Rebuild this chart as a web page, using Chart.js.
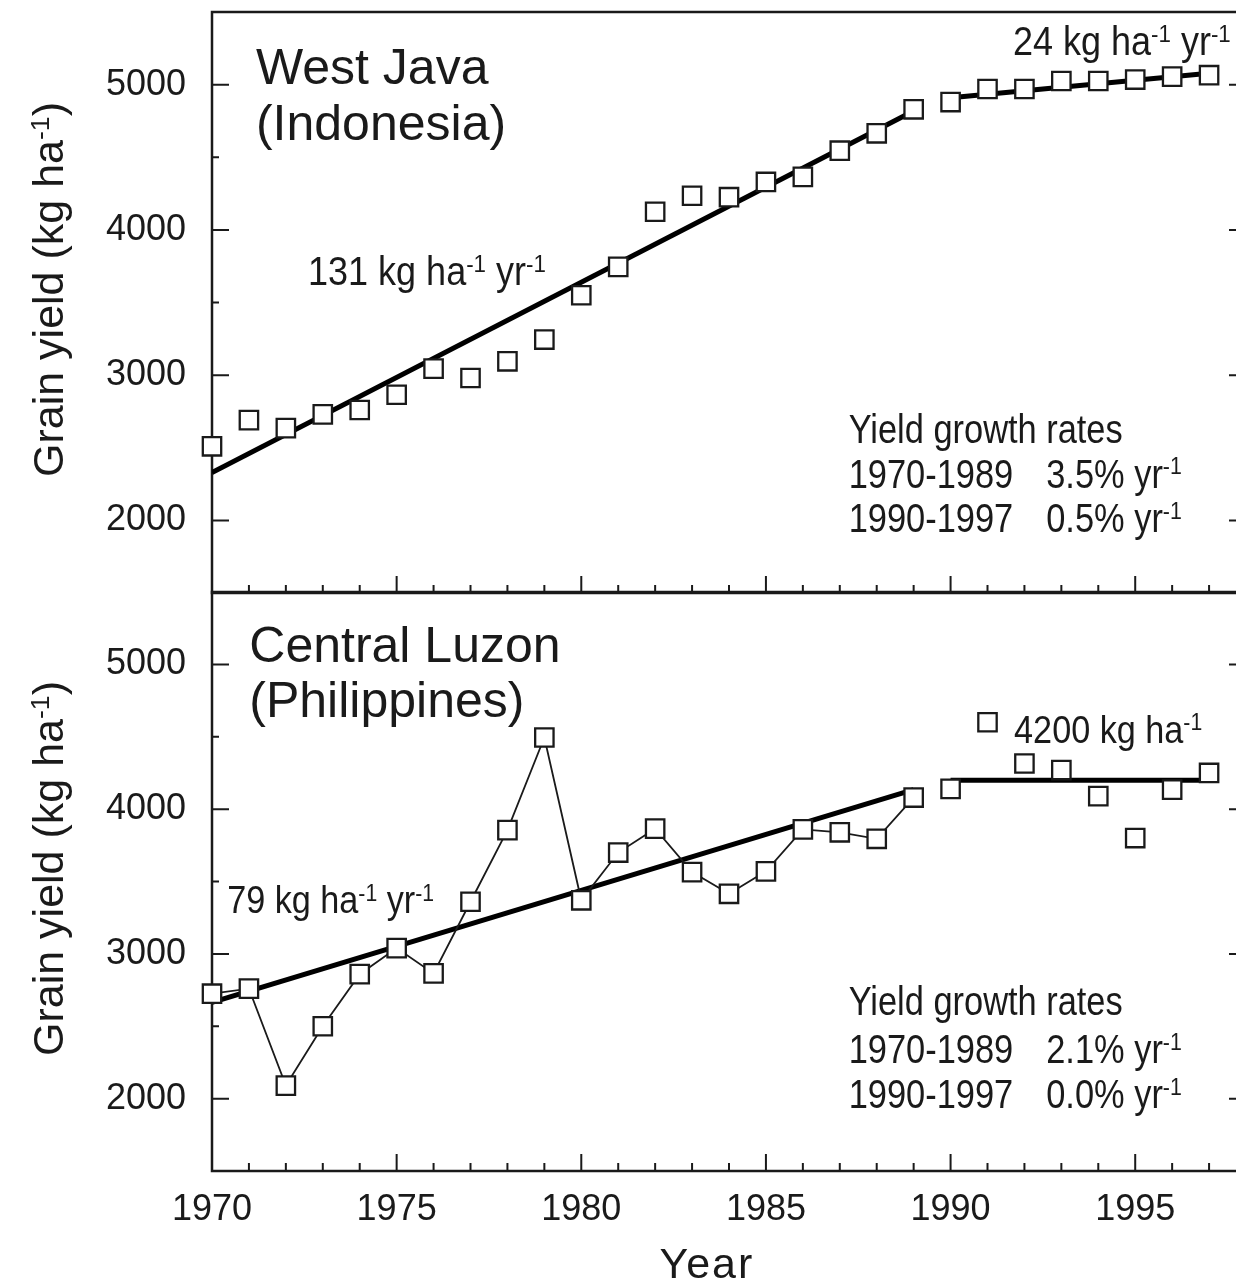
<!DOCTYPE html>
<html>
<head>
<meta charset="utf-8">
<script src="https://cdn.jsdelivr.net/npm/chart.js@4"></script>
<style>
  html, body { margin: 0; padding: 0; background: #fff; overflow: hidden; }
  #wrap { position: relative; width: 1236px; height: 1282px; overflow: hidden; }
  #topChart { position: absolute; left: 0; top: 0; }
  #bottomChart { position: absolute; left: 0; top: 580px; }
</style>
</head>
<body>
<div id="wrap">
  <canvas id="topChart" width="1260" height="600"></canvas>
  <canvas id="bottomChart" width="1260" height="702"></canvas>
</div>
<script>
// Grain yield, West Java vs Central Luzon (two stacked panels)

const years = [1970, 1971, 1972, 1973, 1974, 1975, 1976, 1977, 1978, 1979,
               1980, 1981, 1982, 1983, 1984, 1985, 1986, 1987, 1988, 1989,
               1990, 1991, 1992, 1993, 1994, 1995, 1996, 1997];

const westJava = [2510, 2690, 2635, 2730, 2760, 2865, 3045, 2980, 3095, 3245,
                  3550, 3745, 4125, 4235, 4225, 4330, 4365, 4545, 4665, 4830,
                  4880, 4970, 4970, 5025, 5025, 5035, 5055, 5065];

const centralLuzon = [2725, 2760, 2090, 2500, 2860, 3040, 2865, 3360, 3855, 4495,
                      3370, 3700, 3865, 3565, 3415, 3570, 3860, 3840, 3795, 4080,
                      4140, 4600, 4315, 4270, 4090, 3800, 4135, 4250];

// fitted trend lines (end points)
const earlyYears = [1970, 1989];
const lateYears = [1990, 1997];
const westJavaEarlyFit = [2330, 4819];
const westJavaLateFit = [4910, 5078];
const luzonEarlyFit = [2665, 4135];
const luzonLateFit = [4200, 4200];

const yearTicks = [1970, 1975, 1980, 1985, 1990, 1995];
const yieldTicks = [2000, 3000, 4000, 5000];

const FAMILY = '"Liberation Sans", Arial, sans-serif';
const INK = "#1a1a1a";

const pts = (xs, ys) => xs.map((x, i) => ({ x, y: ys[i] }));

// text with ^superscript^ parts
function richText(ctx, text, x, y, size, sx, align) {
  const parts = text.split("^").map((t, i) => ({ t, sup: i % 2 === 1 }));
  const fontFor = p => `${p.sup ? size * 0.62 : size}px ${FAMILY}`;
  let w = 0;
  parts.forEach(p => { ctx.font = fontFor(p); w += ctx.measureText(p.t).width; });
  ctx.save();
  ctx.translate(x, y);
  ctx.scale(sx, 1);
  ctx.textAlign = "left";
  ctx.textBaseline = "alphabetic";
  let cx = align === "center" ? -w / 2 : 0;
  parts.forEach(p => {
    ctx.font = fontFor(p);
    ctx.fillText(p.t, cx, p.sup ? -size * 0.33 : 0);
    cx += ctx.measureText(p.t).width;
  });
  ctx.restore();
}

function decor(notes, showYear) {
  return {
    id: "decor",
    beforeDatasetsDraw(chart) {
      const { ctx, chartArea: a, scales: { x, y } } = chart;
      ctx.save();
      ctx.strokeStyle = INK;
      ctx.lineWidth = 2.5;
      ctx.strokeRect(a.left, a.top, a.right - a.left, a.bottom - a.top);

      // inward tick marks
      ctx.lineWidth = 2;
      ctx.beginPath();
      for (let yr = 1971; yr <= 1997; yr++) {
        const px = x.getPixelForValue(yr);
        const len = yr % 5 === 0 ? 17 : 8;
        ctx.moveTo(px, a.bottom);
        ctx.lineTo(px, a.bottom - len);
      }
      for (let v = 2000; v <= 5000; v += 500) {
        const py = y.getPixelForValue(v);
        const len = v % 1000 === 0 ? 17 : 7;
        ctx.moveTo(a.left, py); ctx.lineTo(a.left + len, py);
        ctx.moveTo(a.right, py); ctx.lineTo(a.right - len, py);
      }
      ctx.stroke();
      ctx.restore();
    },
    afterDatasetsDraw(chart) {
      const { ctx, chartArea: a, scales: { x, y } } = chart;
      ctx.save();
      ctx.fillStyle = INK;
      notes.forEach(n => {
        richText(ctx, n.text, x.getPixelForValue(n.x), y.getPixelForValue(n.y),
                 n.size || 40, n.sx || 0.88, "left");
      });

      // y axis title, rotated
      ctx.save();
      ctx.translate(63, (a.top + a.bottom) / 2 - 13);
      ctx.rotate(-Math.PI / 2);
      richText(ctx, "Grain yield (kg ha^-1^)", 0, 0, 43, 1, "center");
      ctx.restore();

      if (showYear) {
        ctx.letterSpacing = "2px";
        richText(ctx, "Year", x.getPixelForValue(1983.4), a.bottom + 107, 43, 1, "center");
      }
      ctx.restore();
    }
  };
}

function noPad(s) {
  s.paddingTop = 0;
  s.paddingBottom = 0;
  s.paddingLeft = 0;
  s.paddingRight = 0;
}

function makePanel(id, datasets, notes, opts) {
  return new Chart(document.getElementById(id), {
    type: "scatter",
    data: { datasets },
    options: {
      responsive: false,
      animation: false,
      events: [],
      layout: { autoPadding: false, padding: { top: 12, right: 14, bottom: 0, left: 0 } },
      plugins: { legend: { display: false }, tooltip: { enabled: false } },
      scales: {
        x: {
          type: "linear",
          min: 1970,
          max: 1998,
          grid: { display: false, drawTicks: false },
          border: { display: false },
          afterBuildTicks: s => { s.ticks = yearTicks.map(v => ({ value: v })); },
          ticks: {
            display: opts.xLabels,
            autoSkip: false,
            maxRotation: 0,
            padding: 17,
            color: INK,
            font: { family: FAMILY, size: 36 },
            callback: v => String(v)
          },
          afterFit: s => { s.height = opts.xHeight; noPad(s); }
        },
        y: {
          type: "linear",
          min: 1500,
          max: 5500,
          grid: { display: false, drawTicks: false },
          border: { display: false },
          afterBuildTicks: s => { s.ticks = yieldTicks.map(v => ({ value: v })); },
          ticks: {
            padding: 26,
            color: INK,
            font: { family: FAMILY, size: 36 },
            callback: v => String(v)
          },
          afterFit: s => { s.width = 212; noPad(s); }
        }
      }
    },
    plugins: [decor(notes, opts.xLabels)]
  });
}

const squares = {
  showLine: false,
  order: 0,
  clip: false,
  pointStyle: "rect",
  pointRadius: 13,
  pointBorderWidth: 2.3,
  pointBorderColor: INK,
  pointBackgroundColor: "#fff"
};

const fitLine = {
  showLine: true,
  order: 2,
  borderColor: "#000",
  borderWidth: 5,
  pointRadius: 0
};

makePanel("topChart", [
  { ...squares, data: pts(years, westJava) },
  { ...fitLine, data: pts(earlyYears, westJavaEarlyFit) },
  { ...fitLine, data: pts(lateYears, westJavaLateFit) }
], [
  { x: 1971.19, y: 5004, text: "West Java", size: 50, sx: 1 },
  { x: 1971.19, y: 4619, text: "(Indonesia)", size: 50, sx: 1 },
  { x: 1972.6, y: 3620, text: "131 kg ha^-1^ yr^-1^", sx: 0.9 },
  { x: 1991.69, y: 5204, text: "24 kg ha^-1^ yr^-1^", sx: 0.9 },
  { x: 1987.24, y: 2532, text: "Yield growth rates", sx: 0.86 },
  { x: 1987.24, y: 2225, text: "1970-1989", sx: 0.86 },
  { x: 1992.59, y: 2225, text: "3.5% yr^-1^", sx: 0.86 },
  { x: 1987.24, y: 1920, text: "1990-1997", sx: 0.86 },
  { x: 1992.59, y: 1920, text: "0.5% yr^-1^", sx: 0.86 }
], { xLabels: false, xHeight: 7 });

makePanel("bottomChart", [
  { ...squares, data: pts(years, centralLuzon) },
  { showLine: true, order: 1, borderColor: INK, borderWidth: 1.8, pointRadius: 0,
    data: pts(years.slice(0, 20), centralLuzon.slice(0, 20)) },
  { ...fitLine, data: pts(earlyYears, luzonEarlyFit) },
  { ...fitLine, data: pts(lateYears, luzonLateFit) }
], [
  { x: 1971.01, y: 5018, text: "Central Luzon", size: 50, sx: 1 },
  { x: 1971.01, y: 4639, text: "(Philippines)", size: 50, sx: 1 },
  { x: 1970.41, y: 3280, text: "79 kg ha^-1^ yr^-1^", size: 38, sx: 0.9 },
  { x: 1991.72, y: 4460, text: "4200 kg ha^-1^", size: 38, sx: 0.9 },
  { x: 1987.24, y: 2578, text: "Yield growth rates", sx: 0.86 },
  { x: 1987.24, y: 2248, text: "1970-1989", sx: 0.86 },
  { x: 1992.59, y: 2248, text: "2.1% yr^-1^", sx: 0.86 },
  { x: 1987.24, y: 1936, text: "1990-1997", sx: 0.86 },
  { x: 1992.59, y: 1936, text: "0.0% yr^-1^", sx: 0.86 }
], { xLabels: true, xHeight: 111 });
</script>
</body>
</html>
